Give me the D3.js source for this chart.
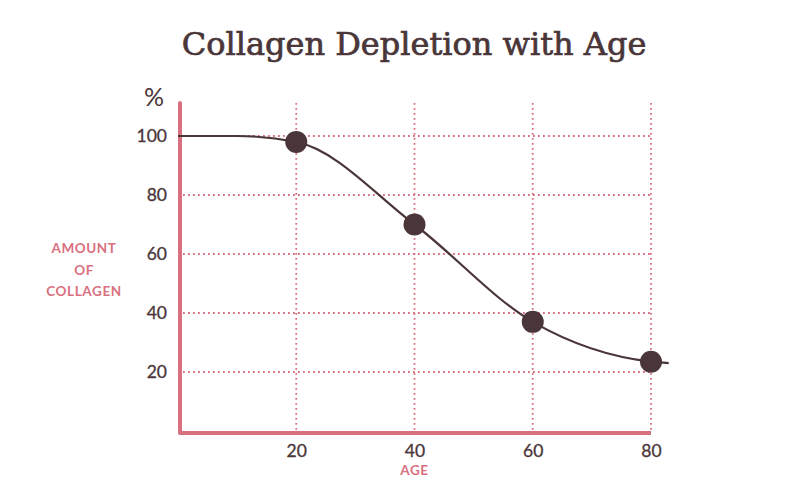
<!DOCTYPE html>
<html>
<head>
<meta charset="utf-8">
<script src="https://cdn.jsdelivr.net/npm/d3@7"></script>
<style>
  body { margin: 0; background: #fff; }
</style>
</head>
<body>
<div id="chart"></div>
<script>
// data
const ages = [20, 40, 60, 80];
const collagen = [98, 70, 37, 23.5];
// curve runs a bit past the marked points on both ends
const curveAges = [0, 10, 20, 40, 60, 80, 83];
const curveValues = [100, 100, 98, 70, 37, 23.5, 23];
const xTicks = [20, 40, 60, 80];
const yTicks = [20, 40, 60, 80, 100];

const pink = "#d9707f";
const dark = "#4a3639";

const outerWidth = 787, outerHeight = 500;
const svg = d3.select("#chart").append("svg")
    .attr("width", outerWidth)
    .attr("height", outerHeight);

const xScale = d3.scaleLinear().domain([0, 80]).range([178, 651]);
const yScale = d3.scaleLinear().domain([0, 100]).range([431, 136]);

svg.append("text")
    .attr("x", 414).attr("y", 55)
    .attr("text-anchor", "middle")
    .attr("font-family", "DejaVu Serif")
    .attr("font-size", 32)
    .attr("fill", dark)
    .attr("stroke", dark)
    .attr("stroke-width", 0.7)
    .text("Collagen Depletion with Age");

// dotted grid
const grid = svg.append("g");
grid.selectAll(".hgrid").data(yTicks).enter().append("line")
    .attr("x1", xScale(0)).attr("x2", xScale(80))
    .attr("y1", d => yScale(d)).attr("y2", d => yScale(d))
    .attr("stroke", pink).attr("stroke-width", 1.8)
    .attr("stroke-dasharray", "1.8,3.2");
grid.selectAll(".vgrid").data(xTicks).enter().append("line")
    .attr("x1", d => xScale(d)).attr("x2", d => xScale(d))
    .attr("y1", 103).attr("y2", yScale(0))
    .attr("stroke", pink).attr("stroke-width", 1.8)
    .attr("stroke-dasharray", "1.8,3.2");

// axes
const xAxis = d3.axisBottom(xScale).tickValues(xTicks).tickSize(0).tickPadding(11);
const yAxis = d3.axisLeft(yScale).tickValues(yTicks).tickSize(0).tickPadding(11);

const xaxis = svg.append("g")
    .attr("transform", `translate(0, ${yScale(0)})`)
    .call(xAxis);
const yaxis = svg.append("g")
    .attr("transform", `translate(${xScale(0)}, 0)`)
    .call(yAxis);

[xaxis, yaxis].forEach(a => {
    a.select(".domain").remove();
    a.selectAll("text")
        .attr("font-family", "Lato")
        .attr("font-size", 17.5)
        .attr("fill", dark)
        .attr("stroke", dark)
        .attr("stroke-width", 0.3);
});
xaxis.selectAll("text").attr("dy", "0.85em");

svg.append("line")
    .attr("x1", xScale(0) + 2).attr("x2", xScale(0) + 2)
    .attr("y1", 103).attr("y2", yScale(0) + 2)
    .attr("stroke", pink).attr("stroke-width", 4).attr("stroke-linecap", "round");
svg.append("line")
    .attr("x1", xScale(0) + 2).attr("x2", xScale(80))
    .attr("y1", yScale(0) + 2).attr("y2", yScale(0) + 2)
    .attr("stroke", pink).attr("stroke-width", 4);

svg.append("text")
    .attr("x", 154).attr("y", 106)
    .attr("text-anchor", "middle")
    .attr("font-family", "Lato")
    .attr("font-size", 25)
    .attr("fill", dark)
    .text("%");

const yLabel = svg.append("text")
    .attr("text-anchor", "middle")
    .attr("font-family", "Lato")
    .attr("font-weight", "bold")
    .attr("font-size", 13.5)
    .attr("letter-spacing", 0.6)
    .attr("fill", pink);
["AMOUNT", "OF", "COLLAGEN"].forEach((t, i) => {
    yLabel.append("tspan").attr("x", 84).attr("y", 253 + i * 21.5).text(t);
});

svg.append("text")
    .attr("x", xScale(40)).attr("y", 475)
    .attr("text-anchor", "middle")
    .attr("font-family", "Lato")
    .attr("font-weight", "bold")
    .attr("font-size", 13.5)
    .attr("letter-spacing", 0.6)
    .attr("fill", pink)
    .text("AGE");

// curve
const line = d3.line()
    .x((d, i) => xScale(curveAges[i]))
    .y(d => yScale(d))
    .curve(d3.curveMonotoneX);

svg.append("path")
    .datum(curveValues)
    .attr("d", line)
    .attr("fill", "none")
    .attr("stroke", dark)
    .attr("stroke-width", 2.2);

svg.selectAll(".dot").data(collagen).enter().append("circle")
    .attr("cx", (d, i) => xScale(ages[i]))
    .attr("cy", d => yScale(d))
    .attr("r", 11)
    .attr("fill", dark);
</script>
</body>
</html>
